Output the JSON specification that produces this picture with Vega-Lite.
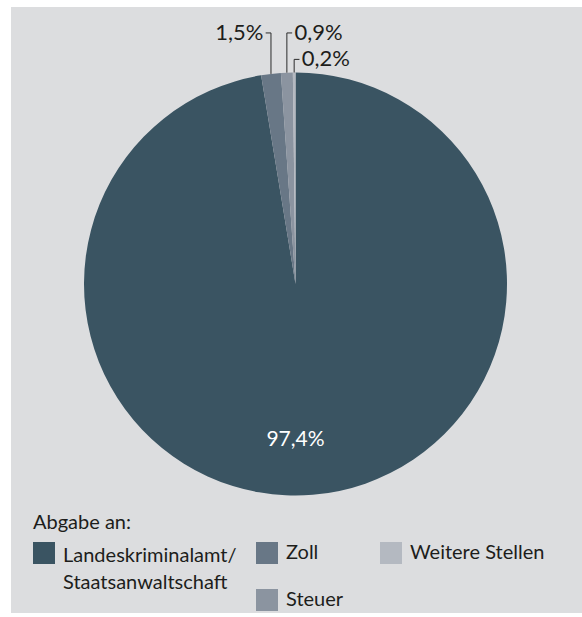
{
  "$schema": "https://vega.github.io/schema/vega-lite/v6.json",
  "width": 571,
  "height": 606,
  "autosize": {"type": "none"},
  "padding": {"left": 11, "top": 7, "right": 0, "bottom": 4},
  "background": "#ffffff",
  "config": {"view": {"stroke": null, "fill": "#dcdddf"}, "font": "Lato"},
  "data": {"values": [
    {"cat": "Landeskriminalamt/Staatsanwaltschaft", "value": 97.4, "label": "97,4%"},
    {"cat": "Zoll", "value": 1.5, "label": "1,5%"},
    {"cat": "Steuer", "value": 0.9, "label": "0,9%"},
    {"cat": "Weitere Stellen", "value": 0.2, "label": "0,2%"}
  ]},
  "transform": [
    {"joinaggregate": [{"op": "sum", "field": "value", "as": "total"}]},
    {"window": [{"op": "sum", "field": "value", "as": "cum"}], "sort": [{"field": "value", "order": "descending"}], "frame": [null, 0]},
    {"calculate": "(datum.cum - datum.value / 2) / datum.total * 2 * PI", "as": "mid"},
    {"calculate": "sin(datum.mid)", "as": "lx"},
    {"calculate": "cos(datum.mid)", "as": "ey"},
    {"calculate": "cos(datum.mid) * 0.74", "as": "by"},
    {"calculate": "datum.value > 1 ? -1 : 1", "as": "dir"},
    {"calculate": "datum.value < 0.5 ? 1.062 : 1.187", "as": "level"},
    {"calculate": "datum.lx + datum.dir * 0.025", "as": "tx"},
    {"calculate": "datum.lx + datum.dir * 0.036", "as": "labx"}
  ],
  "layer": [
    {
      "mark": {"type": "arc", "outerRadius": 211.5},
      "encoding": {
        "x": {"datum": 0, "type": "quantitative", "scale": {"domain": [-1.34515, 1.35461], "nice": false, "zero": false}, "axis": null},
        "y": {"datum": 0, "type": "quantitative", "scale": {"domain": [-1.55556, 1.30969], "nice": false, "zero": false}, "axis": null},
        "theta": {"field": "value", "type": "quantitative", "stack": true},
        "order": {"field": "value", "sort": "descending"},
        "color": {
          "field": "cat", "type": "nominal",
          "scale": {"domain": ["Landeskriminalamt/Staatsanwaltschaft", "Zoll", "Steuer", "Weitere Stellen"], "range": ["#3a5462", "#687786", "#8b94a0", "#b4b9c1"]},
          "legend": {
            "title": "Abgabe an:",
            "values": ["Landeskriminalamt/Staatsanwaltschaft"],
            "orient": "none", "legendX": 22, "legendY": 506, "padding": 0,
            "titleFont": "Lato", "titleFontSize": 20, "titleFontWeight": "normal", "titleColor": "#1d1d1b", "titlePadding": 9,
            "labelFont": "Lato", "labelFontSize": 20, "labelColor": "#1d1d1b", "labelOffset": 8, "labelLimit": 400,
            "symbolType": "square", "symbolSize": 484, "symbolStrokeWidth": 0, "symbolOpacity": 1,
            "labelExpr": "datum.label == 'Landeskriminalamt/Staatsanwaltschaft' ? ['Landeskriminalamt/', 'Staatsanwaltschaft'] : datum.label",
            "encode": {"labels": {"update": {"lineHeight": {"value": 27}, "dy": {"value": 3}}}}
          }
        }
      }
    },
    {
      "transform": [{"filter": "datum.value < 50"}],
      "mark": {"type": "rule", "color": "#2b2b2b", "strokeWidth": 1},
      "encoding": {
        "x": {"field": "lx", "type": "quantitative", "scale": {"domain": [-1.34515, 1.35461], "nice": false, "zero": false}, "axis": null},
        "y": {"field": "ey", "type": "quantitative", "scale": {"domain": [-1.55556, 1.30969], "nice": false, "zero": false}, "axis": null},
        "y2": {"field": "level"}
      }
    },
    {
      "transform": [{"filter": "datum.value < 50"}],
      "mark": {"type": "rule", "color": "#2b2b2b", "strokeWidth": 1},
      "encoding": {
        "x": {"field": "lx", "type": "quantitative", "axis": null},
        "x2": {"field": "tx"},
        "y": {"field": "level", "type": "quantitative", "axis": null}
      }
    },
    {
      "transform": [{"filter": "datum.value < 50 && datum.dir < 0"}],
      "mark": {"type": "text", "align": "right", "baseline": "middle", "font": "Lato", "fontSize": 22, "color": "#1d1d1b"},
      "encoding": {
        "x": {"field": "labx", "type": "quantitative", "axis": null},
        "y": {"field": "level", "type": "quantitative", "axis": null},
        "text": {"field": "label"}
      }
    },
    {
      "transform": [{"filter": "datum.value < 50 && datum.dir > 0"}],
      "mark": {"type": "text", "align": "left", "baseline": "middle", "font": "Lato", "fontSize": 22, "color": "#1d1d1b"},
      "encoding": {
        "x": {"field": "labx", "type": "quantitative", "axis": null},
        "y": {"field": "level", "type": "quantitative", "axis": null},
        "text": {"field": "label"}
      }
    },
    {
      "transform": [{"filter": "datum.value > 50"}],
      "mark": {"type": "text", "align": "center", "baseline": "middle", "font": "Lato", "fontSize": 21, "color": "#ffffff"},
      "encoding": {
        "x": {"datum": 0, "type": "quantitative", "axis": null},
        "y": {"field": "by", "type": "quantitative", "axis": null},
        "text": {"field": "label"}
      }
    },
    {
      "transform": [{"filter": "datum.value < 50"}],
      "mark": {"type": "square", "opacity": 0},
      "encoding": {
        "x": {"datum": 0, "type": "quantitative", "axis": null},
        "y": {"datum": 0, "type": "quantitative", "axis": null},
        "color": {
          "field": "cat", "type": "nominal",
          "scale": {"domain": ["Zoll", "Steuer", "Weitere Stellen"], "range": ["#687786", "#8b94a0", "#b4b9c1"]},
          "legend": {
            "title": null, "columns": 2, "columnPadding": 36, "rowPadding": 25,
            "orient": "none", "legendX": 245, "legendY": 535, "padding": 0,
            "labelFont": "Lato", "labelFontSize": 20, "labelColor": "#1d1d1b", "labelOffset": 8, "labelLimit": 400,
            "symbolType": "square", "symbolSize": 484, "symbolStrokeWidth": 0, "symbolOpacity": 1
          }
        }
      }
    }
  ],
  "resolve": {"scale": {"color": "independent"}}
}
